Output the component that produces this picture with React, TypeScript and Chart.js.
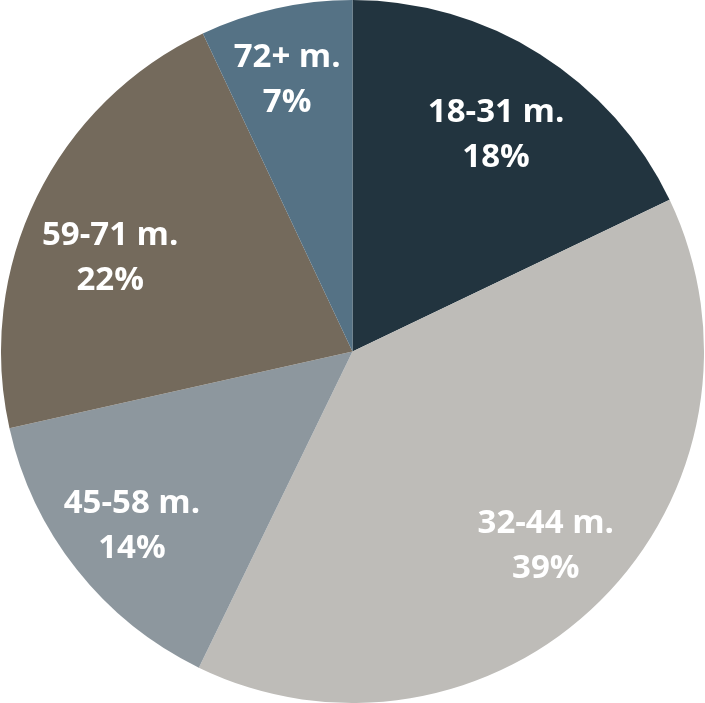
import React, { useEffect, useRef } from "react";
import { Chart, registerables } from "chart.js";

Chart.register(...registerables);

const categories = ["18-31 m.", "32-44 m.", "45-58 m.", "59-71 m.", "72+ m."];
const shares = [17.9, 39.3, 14.3, 21.5, 7.0];
const percentLabels = ["18%", "39%", "14%", "22%", "7%"];
const colors = ["#22343F", "#BEBCB8", "#8D979E", "#746A5C", "#557285"];

const labelPlugin = {
  id: "sliceLabels",
  afterDatasetsDraw(chart: any, _args: any, opts: any) {
    const ctx = chart.ctx;
    const meta = chart.getDatasetMeta(0);
    const radii: number[] = opts.radii || [];
    const shifts: number[][] = opts.shifts || [];
    ctx.save();
    ctx.fillStyle = "#FFFFFF";
    ctx.font = "bold 33px 'Open Sans'";
    ctx.textAlign = "center";
    ctx.textBaseline = "middle";
    meta.data.forEach((arc: any, i: number) => {
      const p = arc.getProps(["startAngle", "endAngle", "outerRadius", "x", "y"], true);
      const mid = (p.startAngle + p.endAngle) / 2;
      const r = p.outerRadius * (radii[i] ?? 0.78);
      const s = shifts[i] || [0, 0];
      const x = p.x + Math.cos(mid) * r + s[0];
      const y = p.y + Math.sin(mid) * r + s[1];
      ctx.fillText(categories[i], x, y - 22.5);
      ctx.fillText(percentLabels[i], x, y + 22.5);
    });
    ctx.restore();
  },
};

export default function App() {
  const ref = useRef<HTMLCanvasElement | null>(null);
  useEffect(() => {
    if (!ref.current) return;
    const chart = new Chart(ref.current, {
      type: "pie",
      data: {
        labels: categories,
        datasets: [
          {
            data: shares,
            backgroundColor: colors,
            borderWidth: 0,
          },
        ],
      },
      options: {
        animation: false,
        responsive: false,
        maintainAspectRatio: false,
        layout: { padding: 0 },
        plugins: {
          legend: { display: false },
          tooltip: { enabled: false },
          sliceLabels: {
            radii: [0.75, 0.78, 0.8, 0.755, 0.8],
            shifts: [[3, 7], [0, 0], [0, 0], [-4, 23], [-4, 3]],
          },
        } as any,
      },
      plugins: [labelPlugin],
    });
    return () => chart.destroy();
  }, []);
  return (
    <div style={{ position: "fixed", left: 0, top: 0, width: 705, height: 703, background: "#fff" }}>
      <canvas ref={ref} width={705} height={703} style={{ width: 705, height: 703, display: "block" }} />
    </div>
  );
}
